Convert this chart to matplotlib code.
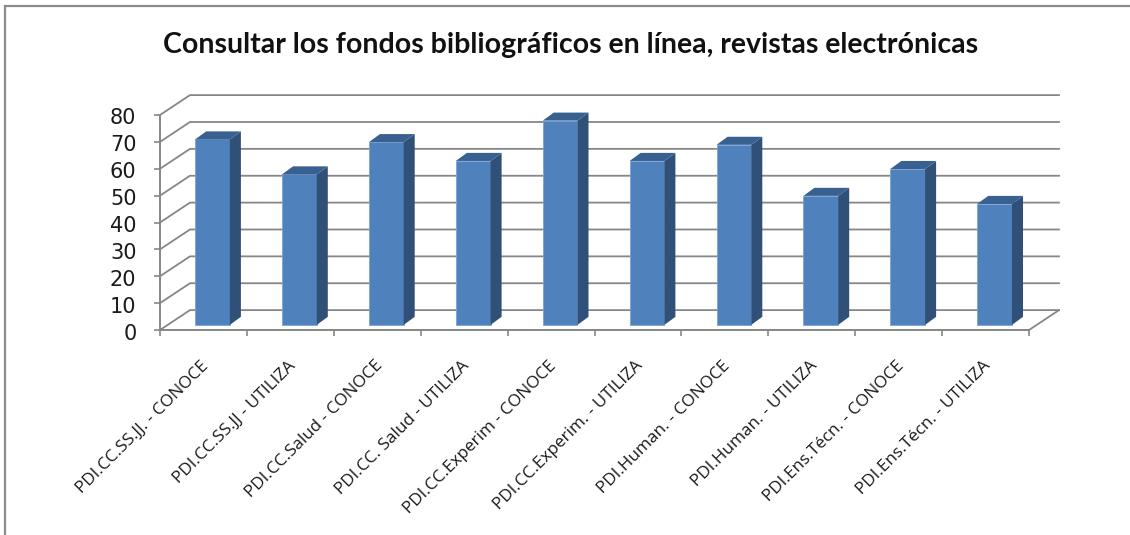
import matplotlib
matplotlib.use('Agg')
import matplotlib.pyplot as plt
from matplotlib.lines import Line2D
from matplotlib.patches import Polygon
from matplotlib.transforms import ScaledTranslation

labels = ['PDI.CC.SS.JJ. - CONOCE', 'PDI.CC.SS.JJ - UTILIZA', 'PDI.CC.Salud - CONOCE',
          'PDI.CC. Salud - UTILIZA', 'PDI.CC.Experim - CONOCE', 'PDI.CC.Experim. - UTILIZA',
          'PDI.Human. - CONOCE', 'PDI.Human. - UTILIZA', 'PDI.Ens.Técn. - CONOCE',
          'PDI.Ens.Técn. - UTILIZA']
values = [69, 56, 68, 61, 76, 61, 67, 48, 58, 45]
yticks = [0, 10, 20, 30, 40, 50, 60, 70, 80]
title = 'Consultar los fondos bibliográficos en línea, revistas electrónicas'

W, H = 1130, 535
grid_col = '#868686'
# fake 3d offsets in data units
wall_dx = 0.345
wall_dy = 7.4
bar_dx = 0.127
bar_dy = 3.0
bar_w = 0.40
bar_shift = 0.104
bar_base = 1.9

fig = plt.figure(figsize=(W / 100, H / 100), dpi=100)
ax = fig.add_axes([160 / W, 1 - 330 / H, 869 / W, 215 / H])
ax.set_xlim(0, 10)
ax.set_ylim(0, 80)
ax.patch.set_visible(False)

for v in yticks:
    ax.plot([0, wall_dx, 10 + wall_dx], [v, v + wall_dy, v + wall_dy],
            color=grid_col, lw=1.3, clip_on=False, zorder=1, solid_joinstyle='miter')
ax.plot([10, 10 + wall_dx], [0, wall_dy], color=grid_col, lw=1.3, clip_on=False, zorder=1)

xs = [i + 0.5 + bar_shift for i in range(len(values))]
ax.bar(xs, values, width=bar_w, bottom=bar_base, color='#4f81bd', edgecolor='#7ba3d6',
       linewidth=0.6, zorder=3, clip_on=False)
for x, v in zip(xs, values):
    r = x + bar_w / 2
    l = x - bar_w / 2
    top = v + bar_base
    ax.add_patch(Polygon([(r, bar_base), (r + bar_dx, bar_base + bar_dy),
                          (r + bar_dx, top + bar_dy), (r, top)],
                         facecolor='#305078', edgecolor='none', zorder=3, clip_on=False))
    ax.add_patch(Polygon([(l, top), (l + bar_dx, top + bar_dy),
                          (r + bar_dx, top + bar_dy), (r, top)],
                         facecolor='#386192', edgecolor='none', zorder=3, clip_on=False))

for s in ['top', 'right']:
    ax.spines[s].set_visible(False)
for s in ['left', 'bottom']:
    ax.spines[s].set_color(grid_col)
    ax.spines[s].set_linewidth(1.4)

ax.set_yticks(yticks)
ax.tick_params(axis='y', length=4, width=1.2, color=grid_col, pad=13,
               labelsize=15, labelcolor='#1a1a1a')
# numbers sit a little lower than their ticks
for t in ax.get_yticklabels():
    t.set_transform(t.get_transform() + ScaledTranslation(0, -1.5 / 100, fig.dpi_scale_trans))
ax.set_xticks(range(11))
ax.set_xticklabels([])
ax.tick_params(axis='x', length=4, width=1.2, color=grid_col)

for i, lab in enumerate(labels):
    ax.annotate(lab, xy=(i + 0.5, 0), xycoords='data', xytext=(-2, -20), textcoords='offset points',
                rotation=45, rotation_mode='anchor', ha='right', va='top',
                fontsize=12.3, family='Open Sans', color='#1a1a1a')

fig.text(571 / W, 1 - 45 / H, title, ha='center', va='center', fontsize=20.5,
         fontweight='bold', family='Lato', color='#111111')

# outer chart frame, only top and left show
fig.add_artist(Line2D([5 / W, 5 / W, 1], [0, 1 - 6 / H, 1 - 6 / H], color='#8c8c8c', lw=1.6,
                      solid_joinstyle='miter'))

fig.savefig('out.png', dpi=100)
